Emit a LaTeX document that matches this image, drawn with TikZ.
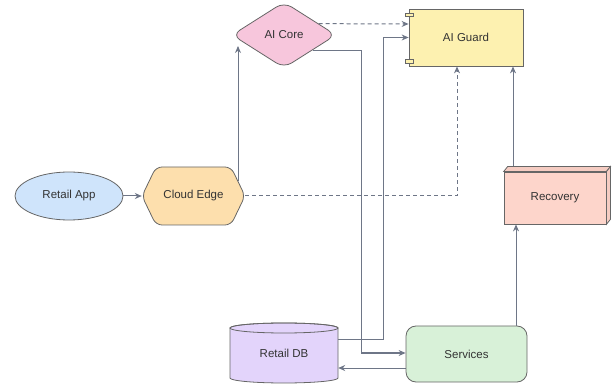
\documentclass[tikz,border=0pt]{standalone}
\usepackage{fontspec}
\setmainfont{Liberation Sans}
\usetikzlibrary{shapes.geometric,arrows.meta,calc,backgrounds}

\definecolor{linec}{HTML}{6E7687}
\definecolor{bordc}{HTML}{666666}
\definecolor{txtc}{HTML}{333333}
\definecolor{appfill}{HTML}{CFE4FB}
\definecolor{edgefill}{HTML}{FDDFAD}
\definecolor{corefill}{HTML}{F7C6DC}
\definecolor{guardfill}{HTML}{FDF1B0}
\definecolor{recfill}{HTML}{FDD5CB}
\definecolor{recside}{HTML}{F5CCC2}
\definecolor{dbfill}{HTML}{E3D4FB}
\definecolor{svcfill}{HTML}{D8F1D8}

\tikzset{
  lbl/.style={font=\fontsize{11.5}{13}\selectfont, text=txtc, inner sep=0pt},
  boxline/.style={draw=bordc, line width=0.8pt},
  conn/.style={draw=linec, line width=1pt, -{Stealth[length=7pt,width=6pt]}},
  dconn/.style={conn, dash pattern=on 4pt off 3pt},
}

\begin{document}
\begin{tikzpicture}[x=1pt,y=1pt]
\useasboundingbox (0,0) rectangle (612,385);

% Retail App
\node[lbl, boxline, ellipse, fill=appfill, minimum width=108pt, minimum height=48pt] (ra) at (69,189) {Retail App};

% Cloud Edge: a wide hexagon drawn behind its label
\coordinate (ceC) at (193.5,189);
\draw[boxline, fill=edgefill, rounded corners=6pt]
  ($(ceC)+(-51.5,0)$) -- ($(ceC)+(-37.5,29)$) -- ($(ceC)+(37.5,29)$) --
  ($(ceC)+(51.5,0)$) -- ($(ceC)+(37.5,-29)$) -- ($(ceC)+(-37.5,-29)$) -- cycle;
\node[lbl, minimum width=103pt, minimum height=58pt] (ce) at (ceC) {Cloud Edge};
\coordinate (ceT) at ($(ceC)+(44.5,14.5)$);

% AI Core
\node[lbl, boxline, diamond, fill=corefill, rounded corners=9pt, minimum width=104pt, minimum height=66pt] (ac) at (284,350) {AI Core};

% AI Guard with its two component tabs
\node[lbl, boxline, rectangle, fill=guardfill, minimum width=114pt, minimum height=57pt] (guard) at (466,347.5) {AI Guard};
\draw[boxline, fill=guardfill] ($(guard.north west)+(-3.5,-4.5)$) rectangle ++(8.5,-3.5);
\draw[boxline, fill=guardfill] ($(guard.south west)+(-3.5,3)$) rectangle ++(8.5,3.5);

% Recovery as a 3D box
\node[lbl, boxline, rectangle, fill=recfill, minimum width=102pt, minimum height=52pt] (rec) at (555,187) {Recovery};
\draw[boxline, fill=recside]
  (rec.north west) -- ++(4,5) -- ($(rec.north east)+(4,5)$) -- (rec.north east) -- cycle;
\draw[boxline, fill=recside]
  (rec.north east) -- ++(4,5) -- ($(rec.south east)+(4,5)$) -- (rec.south east) -- cycle;

% Retail DB as a cylinder
\coordinate (dbC) at (284,32);
\draw[boxline, fill=dbfill]
  ($(dbC)+(-54,25)$) -- ($(dbC)+(-54,-25)$)
  arc[start angle=180, end angle=360, x radius=54, y radius=5]
  -- ($(dbC)+(54,25)$)
  arc[start angle=0, end angle=180, x radius=54, y radius=5] -- cycle;
\draw[boxline] ($(dbC)+(0,25)$) ellipse[x radius=54, y radius=5];
\node[lbl, minimum width=108pt, minimum height=60pt] (db) at (dbC) {Retail DB};

% Services
\node[lbl, boxline, rectangle, rounded corners=10pt, fill=svcfill, minimum width=121pt, minimum height=56pt] (svc) at (466.5,31) {Services};

% Connectors, kept behind the shapes
\begin{scope}[on background layer]
  \draw[conn] (ra.east) -- (ce.west);
  \draw[conn] (ceT) -- ($(ceT |- ac.west)+(0,-11)$);
  \draw[dconn] ($(ac.east)!0.34!(ac.north)$) -- ($(guard.west)+(0,13.5)$);
  \draw[conn] ($(ac.east)!0.45!(ac.south)$) -| ($(svc.west)+(-44,1)$) -- ($(svc.west)+(0,1)$);
  \draw[conn] ($(db.east)+(0,13)$) -| ($(guard.west)+(-25,0)$) -- (guard.west);
  \draw[dconn] (ce.east) -| ($(guard.south)+(-9,0)$);
  \draw[conn] ($(rec.north)+(-42,5)$) -- ($(guard.south)+(47,0)$);
  \draw[conn] ($(svc.north)+(49.5,0)$) -- ($(rec.south)+(-39,0)$);
  \draw[conn] ($(svc.west)+(0,-14)$) -- ($(db.east)+(0,-15)$);
\end{scope}
\end{tikzpicture}
\end{document}
